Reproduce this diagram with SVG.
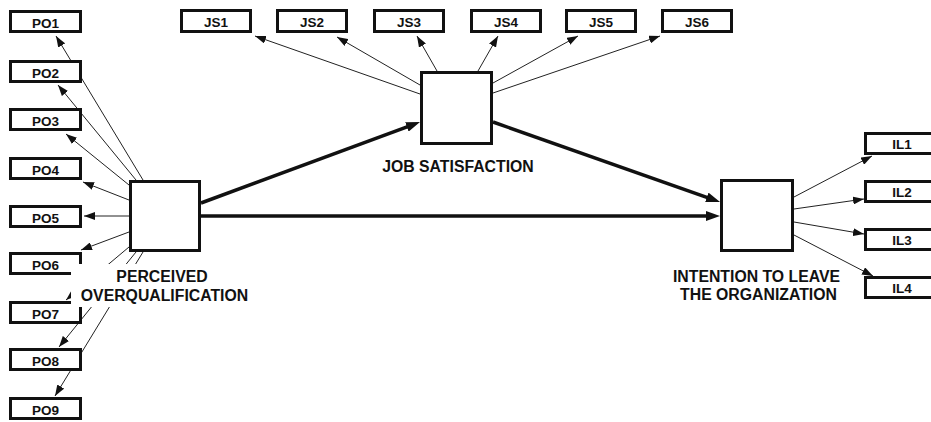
<svg xmlns="http://www.w3.org/2000/svg" width="931" height="422" viewBox="0 0 931 422">
<defs>
<style>
.box{fill:#fff;stroke:#111;stroke-width:3}
.lat{fill:#fff;stroke:#111;stroke-width:3}
.t{font-family:"Liberation Sans",Arial,sans-serif;font-weight:bold;font-size:13.5px;fill:#111;text-anchor:middle}
.lbl{font-family:"Liberation Sans",Arial,sans-serif;font-weight:bold;font-size:15.8px;fill:#111;text-anchor:middle}
.thin{stroke:#222;stroke-width:1;fill:none;marker-end:url(#ah)}
.thick{stroke:#111;stroke-width:3.5;fill:none;marker-end:url(#ahb)}
</style>
<marker id="ah" markerUnits="userSpaceOnUse" markerWidth="11" markerHeight="8" refX="11" refY="4" orient="auto">
<path d="M0,0 L11,4 L0,8 z" fill="#111"/>
</marker>
<marker id="ahb" markerUnits="userSpaceOnUse" markerWidth="14" markerHeight="10" refX="6" refY="5" orient="auto">
<path d="M0,0 L14,5 L0,10 z" fill="#111"/>
</marker>
</defs>
<rect width="931" height="422" fill="#fff"/>

<g id="connectors">
<!-- PO indicators -->
<line class="thin" x1="143" y1="180" x2="56" y2="36"/>
<line class="thin" x1="136" y1="180" x2="58" y2="85"/>
<line class="thin" x1="129" y1="185" x2="66" y2="134"/>
<line class="thin" x1="129" y1="200" x2="83" y2="182"/>
<line class="thin" x1="129" y1="216" x2="84" y2="216"/>
<line class="thin" x1="129" y1="232" x2="81" y2="250"/>
<line class="thin" x1="129" y1="247" x2="66" y2="300"/>
<line class="thin" x1="136" y1="252" x2="59" y2="347"/>
<line class="thin" x1="143" y1="252" x2="55" y2="396"/>
<!-- JS indicators -->
<line class="thin" x1="420" y1="94" x2="255" y2="36"/>
<line class="thin" x1="420" y1="85" x2="337" y2="37"/>
<line class="thin" x1="437" y1="71" x2="417" y2="36"/>
<line class="thin" x1="478" y1="71" x2="498" y2="36"/>
<line class="thin" x1="493" y1="83" x2="578" y2="36"/>
<line class="thin" x1="493" y1="93" x2="660" y2="36"/>
<!-- IL indicators -->
<line class="thin" x1="794" y1="197" x2="872" y2="156"/>
<line class="thin" x1="794" y1="209" x2="864" y2="199"/>
<line class="thin" x1="794" y1="222" x2="864" y2="234"/>
<line class="thin" x1="794" y1="235" x2="873" y2="276"/>
<!-- structural paths -->
<line class="thick" x1="201" y1="203" x2="412.5" y2="124.8"/>
<line class="thick" x1="201" y1="216" x2="712" y2="216"/>
<line class="thick" x1="493" y1="122" x2="712.5" y2="199.3"/>
</g>

<g id="PO1"><rect class="box" x="10.5" y="11.5" width="70" height="20"/><text class="t" x="45.5" y="28">PO1</text></g>
<g id="PO2"><rect class="box" x="10.5" y="61.5" width="70" height="20"/><text class="t" x="45.5" y="78">PO2</text></g>
<g id="PO3"><rect class="box" x="10.5" y="109.5" width="70" height="20"/><text class="t" x="45.5" y="126">PO3</text></g>
<g id="PO4"><rect class="box" x="10.5" y="158.5" width="70" height="20"/><text class="t" x="45.5" y="175">PO4</text></g>
<g id="PO5"><rect class="box" x="10.5" y="206.5" width="70" height="20"/><text class="t" x="45.5" y="223">PO5</text></g>
<g id="PO6"><rect class="box" x="10.5" y="253.5" width="70" height="20"/><text class="t" x="45.5" y="270">PO6</text></g>
<g id="PO7"><rect class="box" x="10.5" y="302.5" width="70" height="20"/><text class="t" x="45.5" y="319">PO7</text></g>
<g id="PO8"><rect class="box" x="10.5" y="349.5" width="70" height="20"/><text class="t" x="45.5" y="366">PO8</text></g>
<g id="PO9"><rect class="box" x="10.5" y="398.5" width="70" height="20"/><text class="t" x="45.5" y="415">PO9</text></g>

<g id="JS1"><rect class="box" x="181.5" y="10.5" width="69" height="21"/><text class="t" x="216" y="27">JS1</text></g>
<g id="JS2"><rect class="box" x="277.5" y="10.5" width="69" height="21"/><text class="t" x="312" y="27">JS2</text></g>
<g id="JS3"><rect class="box" x="374.5" y="10.5" width="69" height="21"/><text class="t" x="409" y="27">JS3</text></g>
<g id="JS4"><rect class="box" x="471.5" y="10.5" width="69" height="21"/><text class="t" x="506" y="27">JS4</text></g>
<g id="JS5"><rect class="box" x="566.5" y="10.5" width="69" height="21"/><text class="t" x="601" y="27">JS5</text></g>
<g id="JS6"><rect class="box" x="662.5" y="10.5" width="69" height="21"/><text class="t" x="697" y="27">JS6</text></g>

<g id="IL1"><rect class="box" x="865.5" y="133.5" width="74" height="20"/><text class="t" x="902" y="149">IL1</text></g>
<g id="IL2"><rect class="box" x="865.5" y="181.5" width="74" height="20"/><text class="t" x="902" y="197">IL2</text></g>
<g id="IL3"><rect class="box" x="865.5" y="229.5" width="74" height="20"/><text class="t" x="902" y="245">IL3</text></g>
<g id="IL4"><rect class="box" x="865.5" y="277.5" width="74" height="20"/><text class="t" x="902" y="293">IL4</text></g>

<g id="perceived-overqualification">
<rect class="lat" x="130.5" y="181.5" width="69" height="69"/>
<rect x="71" y="264" width="187" height="43" fill="#fff"/>
<text class="lbl" x="162" y="282">PERCEIVED</text>
<text class="lbl" x="164.5" y="301">OVERQUALIFICATION</text>
</g>

<g id="job-satisfaction">
<rect class="lat" x="421.5" y="72.5" width="70" height="71"/>
<text class="lbl" x="458" y="172">JOB SATISFACTION</text>
</g>

<g id="intention-to-leave">
<rect class="lat" x="721.5" y="180.5" width="71" height="70"/>
<text class="lbl" x="756.5" y="282">INTENTION TO LEAVE</text>
<text class="lbl" x="758.5" y="300">THE ORGANIZATION</text>
</g>
</svg>
